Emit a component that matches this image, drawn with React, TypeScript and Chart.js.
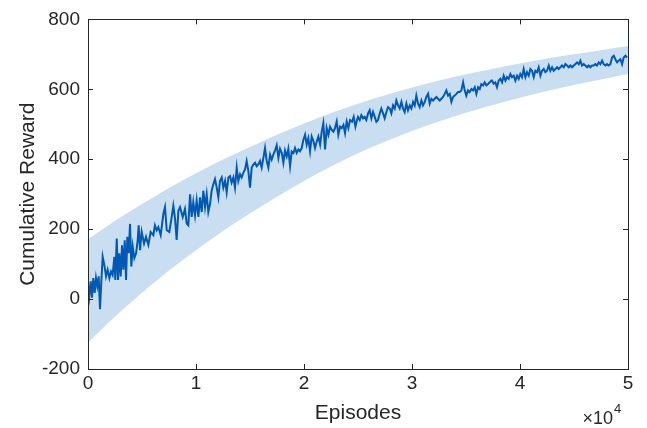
import React, { useEffect, useRef } from "react";
import { Chart, registerables } from "chart.js";

Chart.register(...registerables);

const FONT = "'Liberation Sans', Arial, Helvetica, sans-serif";
const TEXT = "#262626";
const LINE_COLOR = "#0059B5";
const BAND_COLOR = "#CADEF2";

const xTitle = "Episodes";
const yTitle = "Cumulative Reward";
const xExponent = "4";

const xTicks = [0, 10000, 20000, 30000, 40000, 50000];
const yTicks = [-200, 0, 200, 400, 600, 800];

const bandEpisodes = [
  0, 2500, 5000, 7500, 10000, 12500, 15000, 17500, 20000, 22500, 25000,
  27500, 30000, 32500, 35000, 37500, 40000, 42500, 45000, 47500, 50000,
];
const bandUpper = [
  171, 224, 272, 318, 360, 399, 435, 470, 502, 532, 559,
  583, 605, 625, 643, 659, 674, 688, 700, 712, 724,
];
const bandLower = [
  -125, -50, 18, 82, 140, 195, 245, 293, 338, 379, 417,
  450, 481, 508, 533, 555, 576, 595, 612, 628, 644,
];

const episodes = [
  0, 120, 250, 370, 490, 620, 740, 860, 990, 1110, 1240, 1360, 1510, 1670, 1820, 1980,
  2130, 2280, 2440, 2530, 2660, 2780, 2900, 3030, 3150, 3270, 3400, 3520, 3640, 3770,
  3890, 4010, 4140, 4290, 4450, 4600, 4690,
  4820, 4970, 5190, 5370, 5590, 5800, 6050, 6200, 6360, 6510, 6730, 6980, 7130, 7290,
  7530, 7750, 7900, 8060, 8210, 8370, 8520, 8770, 8980, 9140, 9290, 9450, 9600, 9750,
  9910, 10060, 10220, 10370, 10530, 10680, 10840, 10990, 11140, 11300, 11450, 11610,
  11760, 11920, 12070, 12220, 12380, 12530, 12690, 12840, 13000, 13150, 13300, 13460,
  13610, 13770, 13920, 14080, 14230, 14390, 14540, 14690, 14850, 15000, 15160, 15310,
  15470, 15620, 15770, 15930, 16080, 16240, 16390, 16550, 16700, 16860, 17010, 17160,
  17320, 17470, 17630, 17780, 17940, 18090, 18240, 18400, 18550, 18710, 18860, 19020,
  19170, 19320, 19480, 19630, 19790, 19940, 20100, 20250, 20400, 20560, 20710, 20870,
  21020, 21180, 21330, 21490, 21640, 21790, 21950, 22100, 22260, 22410, 22570, 22720,
  22870, 23030, 23180, 23340, 23490, 23650, 23800, 23950, 24110, 24260,
  24450, 24600, 24760, 24910,
  25000, 25160, 25310, 25470, 25620, 25770, 25930, 26080, 26240, 26390, 26550, 26700,
  26850, 27010, 27160, 27320, 27470, 27630, 27780, 27940, 28090, 28240, 28400, 28550,
  28710, 28860, 29020, 29170, 29320, 29480, 29630, 29790, 29940, 30100, 30250, 30400,
  30560, 30710, 30870, 31020, 31180, 31330, 31490, 31640, 31790, 31950, 32100, 32260,
  32410, 32570, 32720, 32870, 33030, 33180, 33340, 33490, 33650, 33800, 33950, 34110,
  34260, 34420, 34570, 34730, 34880, 35030, 35190, 35340, 35500, 35650, 35810, 35960,
  36120, 36270, 36420, 36580, 36730, 36890, 37040, 37200, 37350,
  37410, 37560, 37720, 37870, 38030, 38180, 38340, 38490, 38650, 38800, 38950, 39110,
  39260, 39420, 39570, 39730, 39880, 40030, 40190, 40340, 40500, 40650, 40810, 40960,
  41110, 41270, 41420, 41580, 41730, 41890, 42040, 42200, 42350, 42500, 42660, 42810,
  42970, 43120, 43280, 43430, 43580, 43740, 43890, 44050, 44200, 44360, 44510, 44660,
  44820, 44970, 45130, 45280, 45440, 45590, 45740, 45900, 46050, 46210, 46360, 46520,
  46670, 46830, 46980, 47130, 47290, 47440, 47600, 47750, 47910, 48060, 48210, 48370,
  48520, 48680, 48830, 48990, 49140, 49290, 49450, 49600, 49760, 49910,
];

const rewards = [
  41, 8, 51, 4, 60, 18, 60, 37, 65, -29, 55, 121, 98, 65, 84, 60,
  79, 69, 121, 55, 173, 55, 131, 65, 154, 84, 168, 55, 178, 131,
  215, 93, 150, 117, 131, 168, 211,
  140, 192, 159, 178, 155, 192, 183, 211, 197, 206, 183, 244, 263, 197,
  192, 235, 267, 230, 169, 253, 263, 235, 258, 216, 211, 300, 235, 277,
  239, 282, 235, 291, 249, 310, 263, 300, 249, 272, 310, 329,
  343, 319, 291, 338, 348, 319, 338, 305, 348, 352, 333, 348,
  319, 376, 338, 357, 348, 362, 371, 395, 366, 319, 376, 385,
  390, 380, 385, 395, 376, 404, 432, 395, 376, 413, 399, 413,
  425, 440, 404, 430, 418, 390, 425, 408, 430, 380, 422, 418,
  432, 418, 428, 423, 432, 455, 470, 442, 460, 423, 465, 452,
  432, 451, 465, 442, 479, 503, 428, 489, 470, 493, 484, 479,
  489, 508, 470, 493, 489, 498, 475, 508, 489, 512,
  507, 521, 493, 512,
  521, 512, 526, 517, 521, 512, 531, 540, 517, 535, 521, 507,
  512, 531, 545, 531, 517, 535, 549, 545, 531, 554, 545, 568,
  554, 545, 564, 545, 535, 559, 540, 554, 545, 564, 554, 582,
  559, 549, 568, 554, 564, 578, 587, 559, 573, 568, 573, 578,
  573, 568, 573, 578, 587, 597, 582, 587, 564, 578, 582, 587,
  592, 592, 597, 620, 597, 582, 597, 592, 601, 597, 606, 587,
  606, 601, 615, 611, 620, 611, 615, 620, 625,
  625, 616, 620, 606, 625, 630, 620, 639, 625, 635, 630, 644,
  635, 639, 625, 639, 630, 644, 635, 658, 635, 649, 639, 658,
  653, 635, 653, 649, 663, 639, 653, 658, 649, 653, 668, 653,
  663, 653, 658, 663, 658, 663, 668, 663, 672, 668, 663, 668,
  663, 668, 672, 677, 672, 682, 668, 672, 668, 663, 668, 663,
  668, 668, 672, 668, 677, 672, 682, 672, 668, 672, 668, 672,
  691, 696, 686, 677, 682, 686, 672, 691, 696, 691,
];

const framePlugin = {
  id: "matlabFrame",
  afterDatasetsDraw(chart: any) {
    const { ctx, chartArea } = chart;
    const { left, right, top, bottom } = chartArea;
    const xs = chart.scales.x;
    const ys = chart.scales.y;
    const tl = 5;
    ctx.save();
    ctx.strokeStyle = TEXT;
    ctx.lineWidth = 1;
    ctx.beginPath();
    xTicks.forEach((t) => {
      const px = Math.round(xs.getPixelForValue(t)) + 0.5;
      ctx.moveTo(px, bottom);
      ctx.lineTo(px, bottom - tl);
      ctx.moveTo(px, top);
      ctx.lineTo(px, top + tl);
    });
    yTicks.forEach((t) => {
      const py = Math.round(ys.getPixelForValue(t)) + 0.5;
      ctx.moveTo(left, py);
      ctx.lineTo(left + tl, py);
      ctx.moveTo(right, py);
      ctx.lineTo(right - tl, py);
    });
    ctx.stroke();
    ctx.strokeRect(Math.round(left) + 0.5, Math.round(top) + 0.5, Math.round(right - left), Math.round(bottom - top));

    ctx.fillStyle = TEXT;
    ctx.font = `21px ${FONT}`;
    ctx.textAlign = "center";
    ctx.textBaseline = "alphabetic";
    ctx.fillText(xTitle, (left + right) / 2, 419);

    ctx.save();
    ctx.translate(34, (top + bottom) / 2);
    ctx.rotate(-Math.PI / 2);
    ctx.fillText(yTitle, 0, 0);
    ctx.restore();

    ctx.textAlign = "right";
    ctx.font = `18px ${FONT}`;
    ctx.fillText("\u00d710", 613, 424);
    ctx.textAlign = "left";
    ctx.font = `13px ${FONT}`;
    ctx.fillText(xExponent, 614, 413);
    ctx.restore();
  },
};

export default function App() {
  const ref = useRef<HTMLCanvasElement | null>(null);

  useEffect(() => {
    if (!ref.current) return;
    const lineData = episodes.map((x, i) => ({ x, y: rewards[i] }));
    const upperData = bandEpisodes.map((x, i) => ({ x, y: bandUpper[i] }));
    const lowerData = bandEpisodes.map((x, i) => ({ x, y: bandLower[i] }));

    const chart = new Chart(ref.current, {
      type: "line",
      data: {
        datasets: [
          {
            label: "reward",
            data: lineData,
            borderColor: LINE_COLOR,
            borderWidth: 2,
            pointRadius: 0,
            tension: 0,
            fill: false,
            order: 0,
          },
          {
            label: "upper",
            data: upperData,
            borderWidth: 0,
            borderColor: "rgba(0,0,0,0)",
            backgroundColor: BAND_COLOR,
            pointRadius: 0,
            cubicInterpolationMode: "monotone",
            fill: { target: 2 },
            order: 2,
          },
          {
            label: "lower",
            data: lowerData,
            borderWidth: 0,
            borderColor: "rgba(0,0,0,0)",
            pointRadius: 0,
            cubicInterpolationMode: "monotone",
            fill: false,
            order: 3,
          },
        ],
      },
      options: {
        responsive: false,
        animation: false,
        events: [],
        layout: { padding: { left: 0, right: 19, top: 15, bottom: 0 } },
        plugins: {
          legend: { display: false },
          tooltip: { enabled: false },
          title: { display: false },
        },
        scales: {
          x: {
            type: "linear",
            min: 0,
            max: 50000,
            afterBuildTicks: (s: any) => {
              s.ticks = xTicks.map((v) => ({ value: v }));
            },
            afterFit: (s: any) => {
              s.height = 59;
            },
            ticks: {
              callback: (v: any) => String(Number(v) / 10000),
              font: { size: 19, family: FONT },
              color: TEXT,
              padding: 3,
              maxRotation: 0,
              autoSkip: false,
            },
            grid: { display: false, drawTicks: false },
            border: { display: false },
          },
          y: {
            type: "linear",
            min: -200,
            max: 800,
            afterBuildTicks: (s: any) => {
              s.ticks = yTicks.map((v) => ({ value: v }));
            },
            afterFit: (s: any) => {
              s.width = 88;
            },
            ticks: {
              font: { size: 19, family: FONT },
              color: TEXT,
              padding: 8,
            },
            grid: { display: false, drawTicks: false },
            border: { display: false },
          },
        },
      },
      plugins: [framePlugin],
    });
    return () => chart.destroy();
  }, []);

  return (
    <canvas
      ref={ref}
      width={647}
      height={428}
      style={{ position: "fixed", left: 0, top: 0, width: 647, height: 428, background: "#fff" }}
    />
  );
}
